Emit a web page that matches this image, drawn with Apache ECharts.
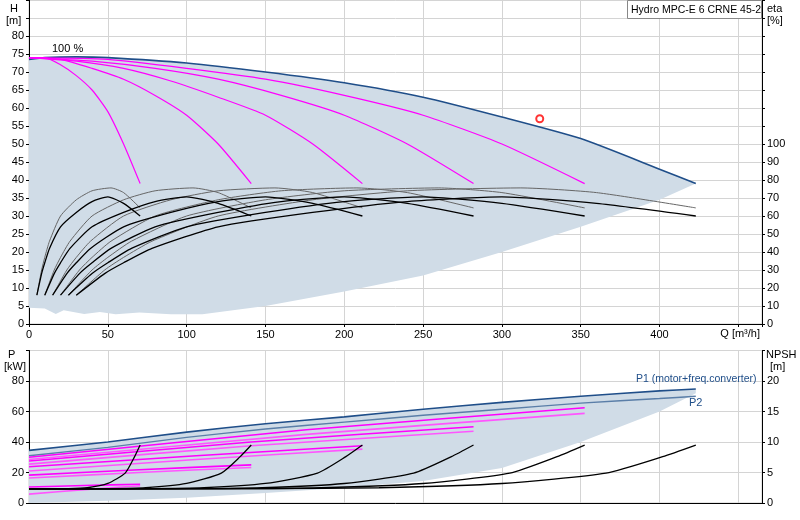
<!DOCTYPE html>
<html><head><meta charset="utf-8">
<script src="https://cdn.jsdelivr.net/npm/echarts@6/dist/echarts.min.js"></script>
<style>html,body{margin:0;padding:0;background:#fff}#c{width:800px;height:520px}</style>
</head><body><div id="c"></div>
<script>
// ---------- DATA ----------
const maxCurve = [[0,73.5],[10,74],[30,74.2],[50,74],[100,72.5],[150,70],[200,67],[250,63],[300,57.5],[350,51.5],[400,43],[423,39]];
const hLower = [[423,39],[400,34.5],[350,27],[300,20],[250,13.5],[200,9],[150,5],[110,2.7],[90,2.7],[70,3.2],[55,2.7],[45,3.3],[35,2.8],[22,3.8],[17,2.8],[10,4.3],[0,4.5]];
const hCurves = [
  [[0,74],[10,74],[20,72],[30,69],[40,65],[50,59],[60,50],[70.5,39]],
  [[0,74],[20,73.5],[40,71],[60,68],[80,63.5],[100,58],[120,50],[141,39]],
  [[0,74],[30,73],[60,71],[90,67.5],[120,63],[150,58],[180,50],[211.5,39]],
  [[0,74],[40,73],[80,71],[120,68],[160,63.5],[200,58],[240,50],[282,39]],
  [[0,74],[50,73.5],[100,71],[150,68],[200,63.5],[250,58],[300,50],[352.5,39]]
];
const etaThinVals  = [16,30,37,46,60,69,74,75.6,73,64.5];
const etaThickVals = [16,28,34,42,54,62,68,70.6,67,60];
const etaThinQ = [
  [5,8,10,13,20,30,40,52,60,70.5],
  [10,16,20,26,40,60,80,104,120,141],
  [15,24,30,39,60,90,120,156,180,211.5],
  [20,32,40,52,80,120,160,208,240,282],
  [25,40,50,65,100,150,200,260,300,352.5],
  [30,48,60,78,120,180,240,312,360,423]
];
const etaThickQ = [
  [5,8,10,13,20,30,40,50,60,70.5],
  [10,16,20,26,40,60,80,100,120,141],
  [15,24,30,39,60,90,120,150,180,211.5],
  [20,32,40,52,80,120,160,200,240,282],
  [25,40,50,65,100,150,200,250,300,352.5],
  [30,48,60,78,120,180,240,300,360,423]
];
const dutyPoint = [[324,57]];
const p1Curve = [[0,34.5],[50,40],[100,46.5],[150,52],[200,56.5],[250,61.5],[300,66],[350,70],[400,73.5],[423,74.8]];
const p2Curve = [[0,31],[50,36.5],[100,43],[150,48.5],[200,53],[250,57.5],[300,61.5],[350,65.5],[400,68.5],[423,70]];
const pLower = [[423,72],[400,60],[350,40],[300,23],[250,14.5],[200,10],[150,6.5],[100,3.5],[50,1.5],[0,0]];
const pCurves = [
  [[0,10.5],[35,11.5],[70.5,12.3]], [[0,5.8],[35,8.8],[70.5,11.3]],
  [[0,18.3],[70,21.8],[141,25]], [[0,16.4],[70,20],[141,23.3]],
  [[0,23.8],[106,31],[211.5,37.5]], [[0,21],[106,28.5],[211.5,35.3]],
  [[0,27.5],[141,40],[282,50]], [[0,25.5],[141,37.5],[282,47]],
  [[0,30],[176,48],[352.5,62.5]], [[0,28.5],[176,45],[352.5,58.8]]
];
const npshVals = [2.3,2.35,2.5,3.2,4.9,7.6,9.5];
const npshQ = [
  [0,25,37,50,61,67,70.5],
  [0,50,74,100,122,134,141],
  [0,75,111,150,183,201,211.5],
  [0,100,148,200,244,268,282],
  [0,125,185,250,305,335,352.5],
  [0,150,222,300,366,402,423]
];
const qTicks = [0,50,100,150,200,250,300,350,400];
const hTicks = [0,5,10,15,20,25,30,35,40,45,50,55,60,65,70,75,80];
const etaTicks = [0,10,20,30,40,50,60,70,80,90,100];
const pTicks = [0,20,40,60,80];
const npshTicks = [0,5,10,15,20];
const title = 'Hydro MPC-E 6 CRNE 45-2';

// ---------- CHART ----------
const F = 'Liberation Sans';
const FS = 11;
const lbl = {fontFamily:F,fontSize:FS,color:'#000'};
const ch = echarts.init(document.getElementById('c'));
const xBase = (gi, showLbl) => ({type:'value',gridIndex:gi,min:0,max:465,interval:50,
  axisLine:{show:true,onZero:false,lineStyle:{color:'#000'}},axisTick:{show:showLbl,length:3,lineStyle:{color:'#000'}},
  axisLabel:{show:showLbl,...lbl,margin:5,formatter:v=>qTicks.includes(v)?String(v):''},
  splitLine:{show:true,lineStyle:{color:'#d4d4d4'}}});
const yAx = (gi, pos, max, iv, ticks, split) => ({type:'value',gridIndex:gi,position:pos,min:0,max:max,interval:iv,
  axisLine:{show:true,lineStyle:{color:'#000'}},
  axisTick:{show:true,length:3,lineStyle:{color:'#000'}},
  axisLabel:{...lbl,margin:5,formatter:v=>ticks.includes(v)?String(v):''},
  splitLine:{show:split,lineStyle:{color:'#d4d4d4'}}});
const poly = (pts, xi, yi, fill) => ({type:'custom',xAxisIndex:xi,yAxisIndex:yi,silent:true,z:1,data:[0],
  renderItem:(p,api)=>({type:'polygon',shape:{points:pts.map(q=>api.coord(q))},style:{fill:fill}})});
const line = (d, xi, yi, color, w) => ({type:'line',xAxisIndex:xi,yAxisIndex:yi,data:d,showSymbol:false,smooth:0.2,silent:true,z:3,lineStyle:{color:color,width:w}});
const series = [];
series.push(poly(maxCurve.concat(hLower), 0, 0, '#d0dce7'));
series.push(poly(p1Curve.concat(pLower), 1, 2, '#d0dce7'));
series.push(line(maxCurve,0,0,'#1f4e89',1.6));
hCurves.forEach(c=>series.push(line(c,0,0,'#ff00ff',1.2)));
etaThinQ.forEach(q=>series.push(line(q.map((x,i)=>[x,etaThinVals[i]]),0,1,'#666',1)));
etaThickQ.forEach(q=>series.push(line(q.map((x,i)=>[x,etaThickVals[i]]),0,1,'#000',1.3)));
series.push({type:'scatter',xAxisIndex:0,yAxisIndex:0,data:dutyPoint,symbol:'emptyCircle',symbolSize:7,itemStyle:{color:'#ff0000',borderColor:'#ff0000',borderWidth:1},z:5});
series.push(line(p1Curve,1,2,'#1f4e89',1.6));
series.push(line(p2Curve,1,2,'#5a7ea8',1.4));
pCurves.forEach((c,i)=>series.push(line(c,1,2,i%2?'#ff55ff':'#ff00ff',1.6)));
npshQ.forEach(q=>series.push(line(q.map((x,i)=>[x,npshVals[i]]),1,3,'#000',1.3)));

const txt = (l,t,s,c,fs) => ({type:'text',left:l,top:t,z:11,style:{text:s,font:(fs||FS)+'px '+F,fill:c||'#000',lineHeight:13}});
ch.setOption({
  animation:false,
  grid:[{left:29,right:38,top:0,height:324,show:true,borderColor:'#ccc'},{left:29,right:38,top:350.5,height:152.5,show:true,borderColor:'#ccc'}],
  xAxis:[xBase(0,true),xBase(1,false)],
  yAxis:[
    yAx(0,'left',90,5,hTicks,true),
    yAx(0,'right',180,10,etaTicks,false),
    yAx(1,'left',100,20,pTicks,true),
    yAx(1,'right',25,5,npshTicks,false)
  ],
  graphic:[
    txt(10,2,'H'), txt(6,14,'[m]'),
    txt(767,2,'eta'), txt(767,14,'[%]'),
    txt(8,348,'P'), txt(4,360,'[kW]'),
    txt(766,348,'NPSH'), txt(770,360,'[m]'),
    {type:'text',right:40,top:328,z:11,style:{text:'Q [m³/h]',font:FS+'px '+F,fill:'#000'}},
    {type:'rect',shape:{x:627.5,y:0.5,width:134,height:18},style:{fill:'#fff',stroke:'#888'},z:10},
    txt(631,4,title,'#000',10.5),
    txt(52,42,'100 %'),
    txt(636,373,'P1 (motor+freq.converter)','#1f4e89',10.5),
    txt(689,396,'P2','#1f4e89')
  ],
  series:series
});
</script></body></html>
